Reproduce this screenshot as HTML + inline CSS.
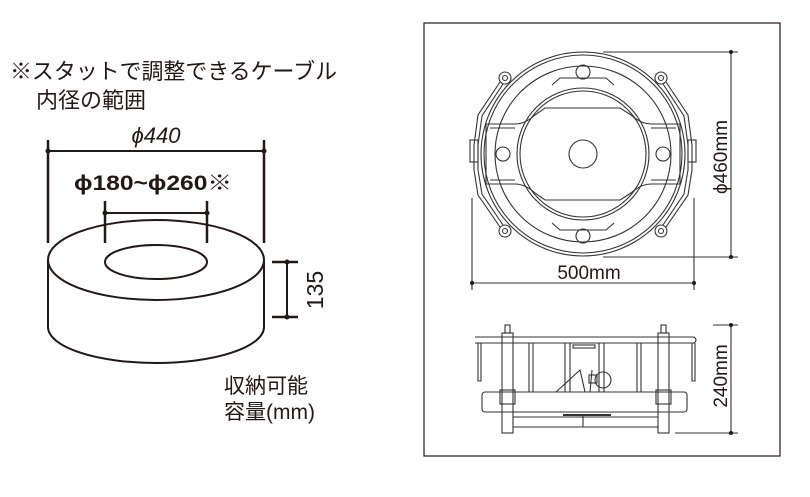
<!DOCTYPE html>
<html><head><meta charset="utf-8"><style>
html,body{margin:0;padding:0;background:#fff;width:810px;height:497px;overflow:hidden}
svg{display:block}
text{font-family:"Liberation Sans","Noto Sans CJK JP",sans-serif;fill:#231815}
</style></head><body>
<svg width="810" height="497" viewBox="0 0 810 497" xmlns="http://www.w3.org/2000/svg">
<g fill="none" stroke="#231815">
<path d="M48 260 L48 327 A108 36 0 0 0 264 327 L264 260" stroke-width="2"/>
<ellipse cx="156" cy="260" rx="108" ry="40" stroke-width="2"/>
<ellipse cx="156" cy="262" rx="51" ry="17" stroke-width="2"/>
<line x1="48" y1="140" x2="48" y2="243" stroke-width="2.5"/>
<line x1="264" y1="140" x2="264" y2="243" stroke-width="2.5"/>
<line x1="48" y1="151" x2="264" y2="151" stroke-width="2"/>
<line x1="105" y1="201" x2="105" y2="243" stroke-width="2.5"/>
<line x1="207" y1="201" x2="207" y2="243" stroke-width="2.5"/>
<line x1="105" y1="213" x2="207" y2="213" stroke-width="2"/>
<line x1="272" y1="262" x2="298" y2="262" stroke-width="2.5"/>
<line x1="272" y1="317" x2="298" y2="317" stroke-width="2.5"/>
<line x1="287" y1="262" x2="287" y2="317" stroke-width="2"/>
</g>
<g fill="#231815">
<circle cx="48" cy="151" r="2.5"/><circle cx="264" cy="151" r="2.5"/>
<circle cx="105" cy="213" r="2.5"/><circle cx="207" cy="213" r="2.5"/>
<circle cx="287" cy="262" r="2.5"/><circle cx="287" cy="317" r="2.5"/>
</g>
<text x="10" y="79" font-size="22" textLength="327" lengthAdjust="spacingAndGlyphs">※スタットで調整できるケーブル</text>
<text x="36" y="108" font-size="22">内径の範囲</text>
<text x="156" y="143" font-size="22" text-anchor="middle" font-style="italic">ϕ440</text>
<text x="74" y="190" font-size="21" font-weight="bold" textLength="158" lengthAdjust="spacingAndGlyphs">ϕ180~ϕ260<tspan font-weight="normal">※</tspan></text>
<text transform="translate(323,290) rotate(-90)" font-size="23" text-anchor="middle">135</text>
<text x="224" y="393" font-size="21">収納可能</text>
<text x="224" y="419" font-size="21">容量(mm)</text>

<rect x="424" y="23" width="356" height="433" fill="none" stroke="#231815" stroke-width="1.2"/>
<g fill="none" stroke="#333" stroke-width="1.1">
<circle cx="583" cy="154" r="102"/>
<circle cx="583" cy="154" r="99"/>
<circle cx="583" cy="154" r="88"/>
<circle cx="583" cy="154" r="66"/>
<circle cx="583" cy="154" r="63"/>
<circle cx="583" cy="154" r="14"/>
<circle cx="583" cy="72" r="7"/><circle cx="583" cy="236" r="7"/>
<circle cx="503" cy="154" r="7"/><circle cx="663" cy="154" r="7"/>
<circle cx="505" cy="78" r="6"/><circle cx="505" cy="78" r="2.5"/>
<circle cx="661" cy="78" r="6"/><circle cx="661" cy="78" r="2.5"/>
<circle cx="505" cy="231" r="6"/><circle cx="505" cy="231" r="2.5"/>
<circle cx="661" cy="231" r="6"/><circle cx="661" cy="231" r="2.5"/>
<path d="M500 82 L478 115 L474 145 L474 170 L478 195 L500 227"/>
<path d="M503 84 L482 116 L478 145 L478 170 L482 194 L503 225"/>
<path d="M666 82 L688 115 L692 145 L692 170 L688 195 L666 227"/>
<path d="M663 84 L684 116 L688 145 L688 170 L684 194 L663 225"/>
<path d="M486 124 L515 124 Q525 124 535 115 L545 108 L620 108 L631 115 Q641 124 651 124 L680 124 L680 184 L651 184 Q641 184 631 193 L620 200 L545 200 L535 193 Q525 184 515 184 L486 184 Z"/>
<path d="M490 128 L515 128 M490 180 L515 180 M651 128 L676 128 M651 180 L676 180"/>
<rect x="470" y="140" width="8" height="22"/>
<rect x="688" y="140" width="8" height="22"/>
<path d="M552 85 L560 78 L606 78 L614 85"/>
<path d="M552 223 L560 230 L606 230 L614 223"/>
<line x1="472" y1="198" x2="472" y2="290"/>
<line x1="694" y1="198" x2="694" y2="290"/>
<line x1="472" y1="283" x2="694" y2="283"/>
<line x1="603" y1="52" x2="738" y2="52"/>
<line x1="603" y1="257" x2="738" y2="257"/>
<line x1="731" y1="52" x2="731" y2="257"/>
<path d="M475 337 L694 337 Q698 340 694 343 L475 343"/>
<path d="M478 343 L478 381 L481 381 L481 343 M692 343 L692 381 L695 381 L695 343"/>
<rect x="482" y="392" width="205" height="20" rx="3"/>
<line x1="513" y1="417" x2="658" y2="417"/>
<line x1="513" y1="427" x2="658" y2="427"/>
<line x1="583" y1="415" x2="583" y2="427"/>
<rect x="502" y="333" width="11" height="100"/>
<rect x="658" y="333" width="11" height="100"/>
<rect x="505" y="325" width="5" height="8"/>
<rect x="661" y="325" width="5" height="8"/>
<rect x="500" y="390" width="15" height="14"/>
<rect x="656" y="390" width="15" height="14"/>
<path d="M529 343 V392 M533 343 V392 M565 343 V392 M570 343 V392 M599 343 V392 M604 343 V392 M637 343 V392 M641 343 V392"/>
<rect x="573" y="345" width="22" height="3"/>
<path d="M556 392 L580 370 L585 392 M590 392 L592 370"/>
<circle cx="603" cy="380" r="8"/>
<rect x="589" y="375" width="8" height="8"/>
<line x1="713" y1="325" x2="738" y2="325"/>
<line x1="675" y1="433" x2="738" y2="433"/>
<line x1="731" y1="325" x2="731" y2="433"/>
</g>
<rect x="563" y="414" width="48" height="2" fill="#333"/>
<g fill="#231815">
<circle cx="472" cy="283" r="2"/><circle cx="694" cy="283" r="2"/>
<circle cx="731" cy="52" r="2"/><circle cx="731" cy="257" r="2"/>
<circle cx="731" cy="325" r="2"/><circle cx="731" cy="433" r="2"/>
</g>
<text x="589" y="279" font-size="19" text-anchor="middle">500mm</text>
<text transform="translate(727,157) rotate(-90)" font-size="19" text-anchor="middle">ϕ460mm</text>
<text transform="translate(727,376) rotate(-90)" font-size="19" text-anchor="middle">240mm</text>
</svg>
</body></html>
